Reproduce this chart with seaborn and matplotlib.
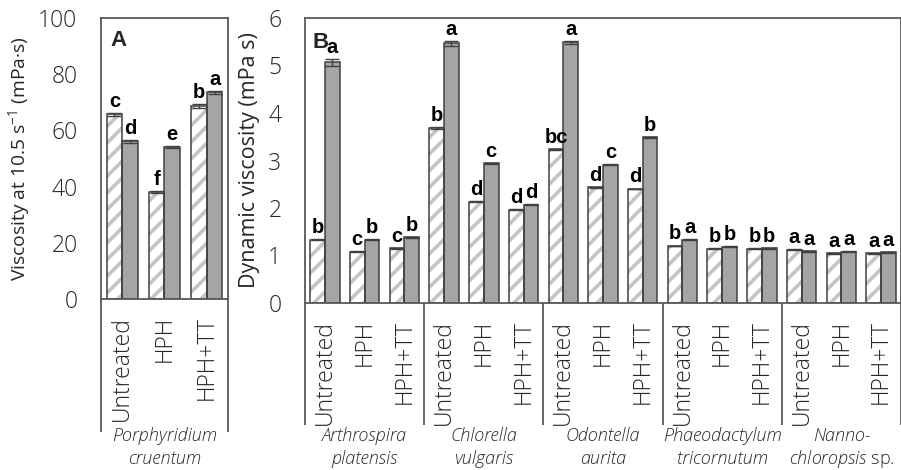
import matplotlib
matplotlib.use("Agg")
import matplotlib.pyplot as plt
import matplotlib.transforms as mtrans
from matplotlib.patches import Rectangle
import numpy as np
import pandas as pd
import seaborn as sns

# ---------------- data ----------------
treatments = ["Untreated", "HPH", "HPH+TT"]
series = ["Series 1", "Series 2"]

# Panel A: Porphyridium cruentum, viscosity at 10.5 s-1 (mPa·s)
a_species = [("Porphyridium", "cruentum")]
a_s1 = [65.8, 38.0, 68.7]
a_s2 = [56.1, 54.0, 73.5]
a_err1 = [0.5, 0.3, 0.6]
a_err2 = [0.5, 0.4, 0.6]
a_let1 = ["c", "f", "b"]
a_let2 = ["d", "e", "a"]

# Panel B: dynamic viscosity (mPa s)
b_species = [("Arthrospira", "platensis"), ("Chlorella", "vulgaris"),
             ("Odontella", "aurita"), ("Phaeodactylum", "tricornutum"),
             ("Nanno-", "chloropsis")]
b_s1 = [1.33, 1.08, 1.15, 3.69, 2.13, 1.96, 3.24, 2.44, 2.40,
        1.20, 1.14, 1.14, 1.12, 1.05, 1.05]
b_s2 = [5.07, 1.33, 1.38, 5.47, 2.94, 2.07, 5.49, 2.91, 3.49,
        1.33, 1.18, 1.15, 1.09, 1.08, 1.07]
b_err1 = [0.01, 0.01, 0.01, 0.02, 0.01, 0.01, 0.01, 0.01, 0.01,
          0.01, 0.01, 0.01, 0.01, 0.01, 0.01]
b_err2 = [0.07, 0.01, 0.01, 0.05, 0.01, 0.01, 0.03, 0.01, 0.01,
          0.01, 0.01, 0.01, 0.01, 0.01, 0.01]
b_let1 = ["b", "c", "c", "b", "d", "d", "bc", "d", "d",
          "b", "b", "b", "a", "a", "a"]
b_let2 = ["a", "b", "b", "a", "c", "d", "a", "c", "b",
          "a", "b", "b", "a", "a", "a"]

a_yticks = [0, 20, 40, 60, 80, 100]
b_yticks = [0, 1, 2, 3, 4, 5, 6]

# ---------------- style ----------------
sns.set_style("white")
plt.rcParams["font.family"] = ["Open Sans", "DejaVu Sans"]
plt.rcParams["font.weight"] = "light"
plt.rcParams["mathtext.fontset"] = "custom"
plt.rcParams["mathtext.rm"] = "Open Sans:light"
plt.rcParams["mathtext.it"] = "Open Sans:italic:light"
plt.rcParams["hatch.linewidth"] = 2.6

EDGE = "#404040"
SPINE = "#595959"
GREY = "#a5a5a5"
HATCH = "#c4c4c4"
TICKFS = 16.5
LETFS = 14.5
SPFS = 13

fig = plt.figure(figsize=(9.01, 4.70), dpi=100)
W, H = 901, 470
axA = fig.add_axes([101 / W, 1 - 299 / H, 127 / W, 281 / H])
axB = fig.add_axes([305 / W, 1 - 303 / H, 596 / W, 285 / H])


def draw_panel(ax, keys, s1, s2, e1, e2, l1, l2, width):
    df = pd.DataFrame({
        "key": keys * 2,
        "series": [series[0]] * len(keys) + [series[1]] * len(keys),
        "value": list(s1) + list(s2),
    })
    sns.barplot(data=df, x="key", y="value", hue="series", order=keys,
                hue_order=series, palette=["white", GREY], saturation=1,
                width=width, errorbar=None, legend=False,
                edgecolor=EDGE, linewidth=1.1, ax=ax)
    n = len(keys)
    bars = [p for p in ax.patches if isinstance(p, Rectangle)][:2 * n]
    vals = list(s1) + list(s2)
    errs = list(e1) + list(e2)
    lets = list(l1) + list(l2)
    for i, p in enumerate(bars[:n]):
        p.set_facecolor("white")
        p.set_edgecolor(HATCH)
        p.set_hatch("//")
        p.set_linewidth(0)
        ax.add_patch(Rectangle(p.get_xy(), p.get_width(), p.get_height(),
                               fill=False, edgecolor=EDGE, linewidth=1.1,
                               zorder=p.get_zorder() + 0.1))
    xs = [p.get_x() + p.get_width() / 2 for p in bars]
    ax.errorbar(xs, vals, yerr=errs, fmt="none", ecolor=EDGE,
                elinewidth=1.0, capsize=4.7, capthick=1.0, zorder=5)
    for x, v, e, t in zip(xs, vals, errs, lets):
        ax.annotate(t, xy=(x, v + e), xytext=(0, 1.5),
                    textcoords="offset points", ha="center", va="bottom",
                    fontsize=LETFS, fontweight="bold",
                    family="Liberation Sans", color="black")
    ax.set_xlim(-0.5, n - 0.5)
    ax.set_xticks(range(n))
    ax.set_xticklabels(treatments * (n // 3), rotation=90, va="top",
                       ha="center", fontsize=TICKFS)
    ax.tick_params(axis="x", length=0, pad=12)
    ax.tick_params(axis="y", length=0, pad=17, labelsize=TICKFS)
    ax.set_xlabel("")
    for s in ax.spines.values():
        s.set_visible(True)
        s.set_color(SPINE)
        s.set_linewidth(1.3)


# Panel A
draw_panel(axA, treatments, a_s1, a_s2, a_err1, a_err2, a_let1, a_let2, 0.73)
axA.set_ylim(0, 100)
axA.set_yticks(a_yticks)
axA.set_ylabel(r"Viscosity at 10.5 s$^{\mathregular{-1}}$ (mPa·s)", fontsize=13.9)
axA.yaxis.set_label_coords(-0.545, 0.5)
axA.text(0.078, 0.958, "A", transform=axA.transAxes, ha="left", va="top",
         fontsize=16, fontweight="bold", family="Liberation Sans")

# Panel B
b_keys = [f"{sp[0]}|{t}" for sp in b_species for t in treatments]
draw_panel(axB, b_keys, b_s1, b_s2, b_err1, b_err2, b_let1, b_let2, 0.74)
axB.set_ylim(0, 6)
axB.set_yticks(b_yticks)
axB.set_ylabel("Dynamic viscosity (mPa s)", fontsize=15.5)
axB.yaxis.set_label_coords(-0.076, 0.5)
axB.text(0.012, 0.952, "B", transform=axB.transAxes, ha="left", va="top",
         fontsize=16, fontweight="bold", family="Liberation Sans")

# group separators and species names below the category axis
y1_txt = 1 - 436 / H
y2_txt = 1 - 459 / H


def groups(ax, specs, bottom_px, axis_px):
    tr = mtrans.blended_transform_factory(ax.transData, fig.transFigure)
    n = len(specs)
    for k in range(n + 1):
        x = -0.5 + 3 * k
        ax.plot([x, x], [1 - axis_px / H, 1 - bottom_px / H], transform=tr,
                color=SPINE, lw=1.3, clip_on=False, solid_capstyle="butt")
    for k, (l1, l2) in enumerate(specs):
        cx = 3 * k + 1
        ax.text(cx, y1_txt, l1, transform=tr, ha="center", va="center",
                fontsize=SPFS, fontstyle="italic")
        if l1.endswith("-"):
            ax.text(cx, y2_txt, r"$\mathit{" + l2 + r"}$ sp.", transform=tr,
                    ha="center", va="center", fontsize=SPFS)
        else:
            ax.text(cx, y2_txt, l2, transform=tr, ha="center", va="center",
                    fontsize=SPFS, fontstyle="italic")


groups(axA, a_species, 432, 299)
groups(axB, b_species, 425, 303)

fig.savefig("out.png", dpi=100)
